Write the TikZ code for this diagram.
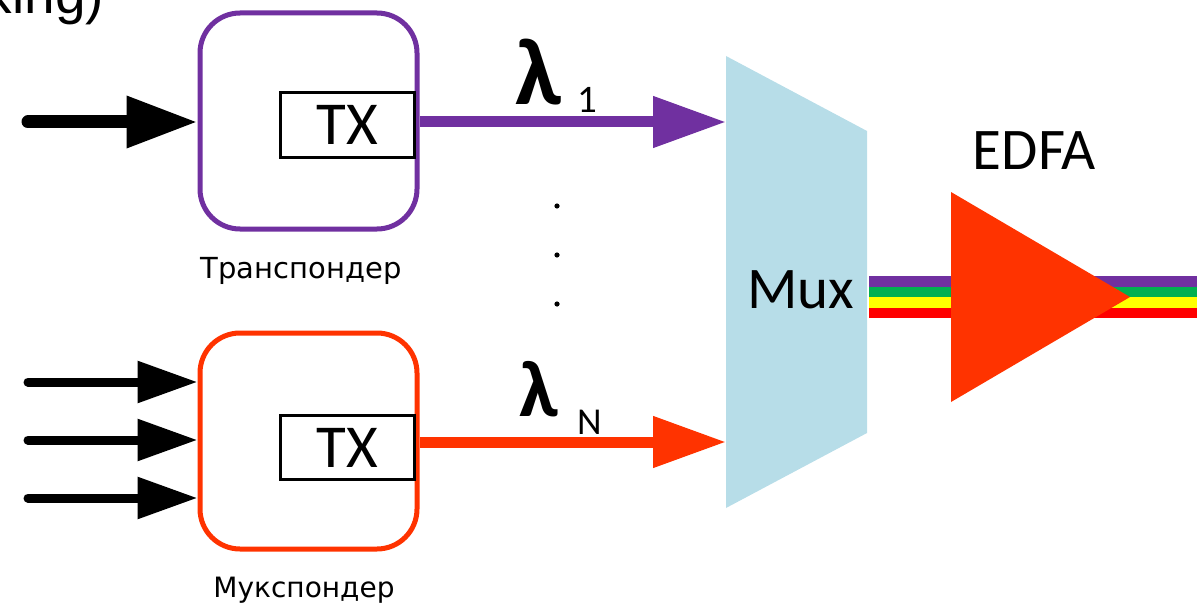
\documentclass[tikz,border=0pt]{standalone}
\usepackage{fontspec}
\setmainfont{Carlito}
\newfontfamily\capfont{DejaVu Sans}
\newfontfamily\headfont{Liberation Sans}
\usetikzlibrary{arrows.meta}
\definecolor{violetline}{RGB}{112,48,160}
\definecolor{orangered}{RGB}{255,51,0}
\definecolor{muxblue}{RGB}{183,221,232}
\definecolor{stripegreen}{RGB}{0,176,80}
\definecolor{stripeyellow}{RGB}{255,255,0}
\definecolor{stripered}{RGB}{255,0,0}
\tikzset{
  unitbox/.style={draw, line width=5pt, rounded corners=40pt, fill=white,
    minimum width=217pt, minimum height=216pt, inner sep=0pt},
  txbox/.style={draw=black, line width=3pt, minimum width=134pt,
    minimum height=65pt, inner sep=0pt},
  plain/.style={inner sep=0pt, outer sep=0pt},
  feedbig/.style={line width=13pt, line cap=round,
    -{Triangle[length=71pt 0 0, width=49pt 0 0]}},
  feedsmall/.style={line width=9pt, line cap=round,
    -{Triangle[length=60pt 0 0, width=40pt 0 0]}},
  channel/.style={line width=11pt,
    -{Triangle[length=73pt 0 0, width=49pt 0 0]}},
}
\begin{document}
\begin{tikzpicture}[x=1pt, y=-1pt]
\useasboundingbox (0,0) rectangle (1197,607);

% heading fragment
\node[plain, anchor=base east, font=\headfont\fontsize{55}{55}\selectfont] (head) at (104,14) {king)};

% transponder and muxponder units
\node[unitbox, draw=violetline] (box1) at (308.5,121) {};
\node[unitbox, draw=orangered] (box2) at (308.5,441) {};
\node[txbox] (tx1) at (347,125) {};
\node[txbox, minimum height=64pt] (tx2) at (347,447) {};
\node[plain, anchor=base, font=\fontsize{61}{61}\selectfont] (tx1t) at (347.5,145) {TX};
\node[plain, anchor=base, font=\fontsize{61}{61}\selectfont] (tx2t) at (347.5,467) {TX};
\node[plain, anchor=base, font=\capfont\fontsize{29}{29}\selectfont] (cap1) at (301,278) {Транспондер};
\node[plain, anchor=base, font=\capfont\fontsize{28}{28}\selectfont] (cap2) at (304,597) {Мукспондер};

% client inputs
\coordinate (inA) at (28,122);
\coordinate (inB1) at (28,382);
\coordinate (inB2) at (28,440);
\coordinate (inB3) at (28,498);
\draw[feedbig] (inA) -- (inA -| box1.west);
\draw[feedsmall] (inB1) -- (inB1 -| box2.west);
\draw[feedsmall] (inB2) -- (inB2 -| box2.west);
\draw[feedsmall] (inB3) -- (inB3 -| box2.west);

% multiplexer
\coordinate (muxTL) at (726,56);
\coordinate (muxTR) at (867,131);
\coordinate (muxBR) at (867,433);
\coordinate (muxBL) at (726,508);
\fill[muxblue] (muxTL) -- (muxTR) -- (muxBR) -- (muxBL) -- cycle;
\node[plain, anchor=base, font=\fontsize{59}{59}\selectfont] (mux) at (800.5,308) {Mux};
\coordinate (muxinA) at (726,122);
\coordinate (muxinB) at (726,442);

% wavelength channels
\draw[channel, violetline] (box1.east |- muxinA) -- (muxinA);
\draw[channel, orangered] (box2.east |- muxinB) -- (muxinB);
\node[plain, anchor=base west, font=\bfseries\fontsize{95}{95}\selectfont] (lam1) at (515,105) {λ};
\node[plain, anchor=base west, font=\fontsize{39}{39}\selectfont] (sub1) at (577,113) {1};
\node[plain, anchor=base west, font=\bfseries\fontsize{80}{80}\selectfont] (lamN) at (519,416) {λ};
\node[plain, anchor=base west, font=\fontsize{38}{38}\selectfont] (subN) at (577,434) {N};
\foreach \yy/\nm in {206/d1, 255/d2, 304/d3}
  \fill (557,\yy) circle (2.6pt) coordinate (\nm);

% multiplexed line
\fill[violetline]   (869,276)   rectangle (1197,287);
\fill[stripegreen]  (869,287)   rectangle (1197,296.7);
\fill[stripeyellow] (869,296.7) rectangle (1197,307.7);
\fill[stripered]    (869,307.7) rectangle (1197,317.7);

% amplifier
\coordinate (ampT) at (951,192);
\coordinate (ampB) at (951,402);
\coordinate (ampTip) at (1130,297);
\fill[orangered] (ampT) -- (ampTip) -- (ampB) -- cycle;
\node[plain, anchor=base, font=\fontsize{59}{59}\selectfont] (edfa) at (1034.5,170) {EDFA};
\end{tikzpicture}
\end{document}
